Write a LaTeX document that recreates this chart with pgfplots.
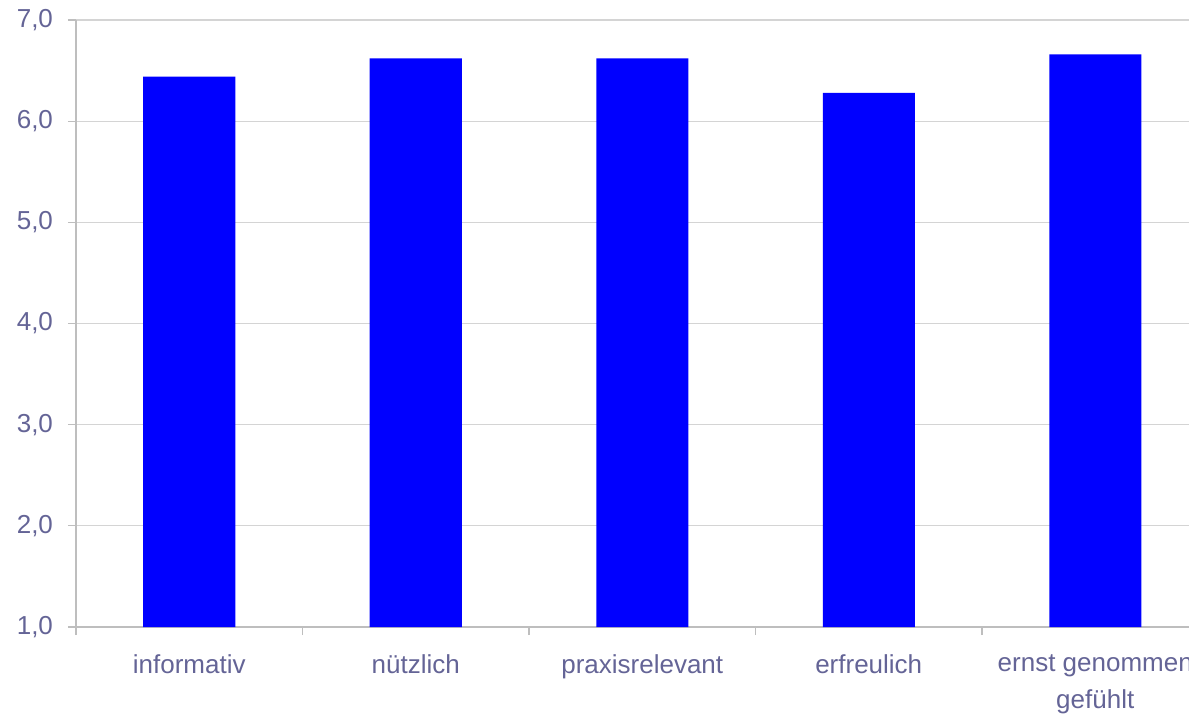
\documentclass[border=0pt]{standalone}
\usepackage{pgfplots}
\pgfplotsset{compat=1.18}
\usepackage{fontspec}
\setmainfont{Liberation Sans}
\definecolor{txt}{RGB}{100,100,150}
\definecolor{axgray}{RGB}{190,190,190}
\definecolor{gridgray}{RGB}{212,212,212}
\definecolor{barblue}{RGB}{0,0,255}
\begin{document}
\begin{tikzpicture}
\begin{axis}[
  at={(0,0)}, anchor=south west,
  scale only axis,
  width=556.5bp, height=303.5bp,
  xmin=-0.5, xmax=4.414,
  ymin=1, ymax=7,
  axis lines=left,
  axis line style={axgray, line width=0.6bp, -},
  ytick={1,2,3,4,5,6,7},
  ymajorgrids=true,
  grid style={gridgray, line width=0.6bp},
  tick align=outside,
  major tick length=4bp,
  tick style={axgray, line width=0.6bp},
  xtick={-0.5,0.5,1.5,2.5,3.5},
  xticklabels={},
  extra x ticks={0,1,2,3,4},
  extra x tick labels={informativ, nützlich, praxisrelevant, erfreulich, {ernst genommen\\gefühlt}},
  extra x tick style={major tick length=0pt, tick style={draw=none}},
  xticklabel style={font=\fontsize{13bp}{18.5bp}\selectfont, text=txt, align=center, yshift=-10.5bp},
  yticklabel style={font=\fontsize{13bp}{15bp}\selectfont, text=txt, xshift=-4bp},
  /pgf/number format/.cd, fixed, fixed zerofill, precision=1, use comma, assume math mode=true,
]
\addplot[ybar, bar width=46bp, fill=barblue, draw=none] coordinates {
  (0,6.44) (1,6.62) (2,6.62) (3,6.28) (4,6.66)
};
\end{axis}
\pgfresetboundingbox
\useasboundingbox (-38bp,-45bp) rectangle (556.5bp,313.5bp);
\end{tikzpicture}
\end{document}
